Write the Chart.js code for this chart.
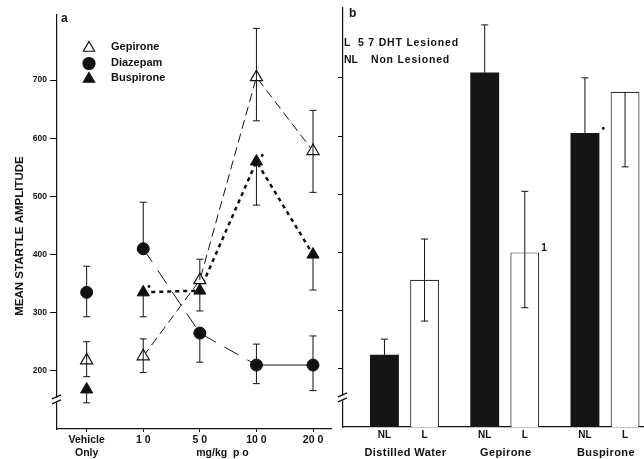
<!DOCTYPE html>
<html><head><meta charset="utf-8">
<script src="https://cdn.jsdelivr.net/npm/chart.js@4.4.1/dist/chart.umd.min.js"></script>
<style>
html,body{margin:0;padding:0;background:#fff;overflow:hidden;width:644px;height:459px;}
canvas{position:absolute;top:0;}
#a{left:0}#b{left:330px}
</style></head><body>
<canvas id="a" width="340" height="459"></canvas>
<canvas id="b" width="314" height="459"></canvas>
<script>
// ---------- Panel a: dose response ----------
const doseLabels = [['Vehicle','Only'], '1 0', '5 0', '10 0', '20 0'];
const doseIndex = [0, 1, 2, 3, 4];
const gepirone   = [218, 225, 356, 705, 578];
const gepironeHi = [250, 255, 392, 789, 648];
const gepironeLo = [190, 197, null, 630, 507];
const diazepam   = [335, 410, 265, 210, 210];
const diazepamHi = [380, 490, null, 246, 260];
const diazepamLo = [293, null, 215, 178, 166];
const buspirone   = [168, 335, 338, 560, 400];
const buspironeHi = [null, null, null, null, null];
const buspironeLo = [145, 293, 303, 485, 339];
const buspironeSig = ['', '•', '', '•', ''];
const yTicks = [200, 300, 400, 500, 600, 700];
const yMin = 100, breakValue = 150;

// ---------- Panel b: lesion study ----------
const groups = ['Distilled Water', 'Gepirone', 'Buspirone'];
const groupIndex = [1, 2, 3];
const nonLesioned   = [224, 709, 605];
const nonLesionedHi = [251, 791, 700];
const nonLesionedLo = [null, null, null];
const nonLesionedSig = ['', '', '•'];
const lesioned   = [353, 400, 676];
const lesionedHi = [423, 505, null];
const lesionedLo = [282, 305, 547];
const lesionedSig = ['', '1', ''];

const FONT = "'Liberation Sans', Arial, Helvetica, sans-serif";
const INK = '#111';

function pts(xs, ys){ return xs.map((x,i)=>({x:x, y:ys[i]})); }

const errorBars = {
  id: 'errorBars',
  afterDatasetsDraw(chart) {
    const ctx = chart.ctx, y = chart.scales.y;
    const isBar = chart.config.type === 'bar';
    ctx.save();
    ctx.strokeStyle = INK; ctx.lineWidth = 1;
    chart.data.datasets.forEach((ds, i) => {
      const meta = chart.getDatasetMeta(i);
      meta.data.forEach((el, j) => {
        [ds.errHi ? ds.errHi[j] : null, ds.errLo ? ds.errLo[j] : null].forEach(v => {
          if (v == null) return;
          const py = y.getPixelForValue(v);
          ctx.beginPath();
          ctx.moveTo(el.x, el.y); ctx.lineTo(el.x, py);
          ctx.moveTo(el.x - 3.5, py); ctx.lineTo(el.x + 3.5, py);
          ctx.stroke();
        });
        if (ds.sig && ds.sig[j]) {
          ctx.fillStyle = INK;
          ctx.font = 'bold 10px ' + FONT;
          ctx.textAlign = 'left'; ctx.textBaseline = 'middle';
          const dx = isBar ? el.width / 2 + 2 : 4;
          ctx.fillText(ds.sig[j], el.x + dx, el.y - (isBar ? 4 : 5));
        }
      });
    });
    ctx.restore();
  }
};

const axisBreak = {
  id: 'axisBreak',
  afterDraw(chart) {
    const ctx = chart.ctx, y = chart.scales.y;
    const x = chart.chartArea.left;
    const py = y.getPixelForValue(breakValue);
    ctx.save();
    ctx.fillStyle = '#fff';
    ctx.fillRect(x - 2, py - 2.5, 4, 5);
    ctx.strokeStyle = INK; ctx.lineWidth = 1.3;
    ctx.beginPath();
    ctx.moveTo(x - 5, py - 1); ctx.lineTo(x + 4, py - 5);
    ctx.moveTo(x - 5, py + 4); ctx.lineTo(x + 4, py);
    ctx.stroke();
    ctx.restore();
  }
};

function marker(ctx, style, x, y, r, filled) {
  ctx.beginPath();
  if (style === 'circle') {
    ctx.arc(x, y, r, 0, Math.PI * 2);
  } else {
    const c = Math.cos(Math.PI / 6);
    ctx.moveTo(x, y - r); ctx.lineTo(x + r * c, y + r / 2); ctx.lineTo(x - r * c, y + r / 2); ctx.closePath();
  }
  ctx.fillStyle = filled ? INK : '#fff';
  ctx.fill();
  ctx.strokeStyle = INK; ctx.lineWidth = 1.2; ctx.stroke();
}

const panelA = {
  id: 'panelA',
  afterDraw(chart) {
    const ctx = chart.ctx, ca = chart.chartArea, xs = chart.scales.x;
    ctx.save();
    ctx.fillStyle = INK;
    ctx.font = 'bold 12px ' + FONT;
    ctx.textAlign = 'left'; ctx.textBaseline = 'middle';
    ctx.fillText('a', ca.left + 4, 19);
    // legend
    ctx.font = 'bold 11px ' + FONT;
    chart.data.datasets.forEach((ds, i) => {
      const ly = 47 + i * 15.5;
      marker(ctx, ds.pointStyle, 89, ly + 1, ds.pointStyle === 'circle' ? 6 : 6.5, ds.pointBackgroundColor !== '#fff');
      ctx.fillStyle = INK;
      ctx.fillText(ds.label, 111, ly);
    });
    // axis title
    ctx.font = 'bold 11.5px ' + FONT;
    ctx.save();
    ctx.translate(20, 236); ctx.rotate(-Math.PI / 2);
    ctx.textAlign = 'center';
    ctx.fillText('MEAN STARTLE AMPLITUDE', 0, 0);
    ctx.restore();
    ctx.font = 'bold 10.5px ' + FONT;
    ctx.textAlign = 'center';
    ctx.fillText('mg/kg  p o', xs.getPixelForValue(2.4), ca.bottom + 24);
    ctx.restore();
  }
};

const panelB = {
  id: 'panelB',
  afterDraw(chart) {
    const ctx = chart.ctx, ca = chart.chartArea;
    ctx.save();
    ctx.fillStyle = INK;
    ctx.textAlign = 'left'; ctx.textBaseline = 'middle';
    ctx.font = 'bold 12px ' + FONT;
    ctx.fillText('b', ca.left + 6, 14);
    ctx.font = 'bold 10.5px ' + FONT;
    ctx.fillText('L', ca.left + 1, 43);
    ctx.fillText('NL', ca.left + 1, 60);
    ctx.letterSpacing = '0.8px';
    ctx.fillText('5 7 DHT Lesioned', ca.left + 15, 43);
    ctx.fillText('Non Lesioned', ca.left + 28, 60);
    ctx.letterSpacing = '0px';
    // bar and group labels
    ctx.textAlign = 'center';
    ctx.font = 'bold 10px ' + FONT;
    const m0 = chart.getDatasetMeta(0).data, m1 = chart.getDatasetMeta(1).data;
    chart.data.datasets.forEach((ds, i) => {
      chart.getDatasetMeta(i).data.forEach(el => ctx.fillText(ds.label, el.x, ca.bottom + 8));
    });
    ctx.font = 'bold 11px ' + FONT;
    ctx.letterSpacing = '0.4px';
    groups.forEach((g, j) => ctx.fillText(g, (m0[j].x + m1[j].x) / 2 + 1, ca.bottom + 26));
    ctx.restore();
  }
};

Chart.defaults.font.family = FONT;
Chart.defaults.color = INK;

const yAxisCommon = (width, showLabels, max) => ({
  type: 'linear', min: yMin, max: max,
  afterBuildTicks: s => { s.ticks = yTicks.map(v => ({ value: v })); },
  afterFit: s => { s.width = width; },
  grid: { drawOnChartArea: false, color: INK, tickLength: showLabels ? 7 : 5, tickWidth: 1 },
  border: { display: true, color: INK, width: 1.2 },
  ticks: { display: showLabels, padding: 3, font: { size: 8.5, weight: 'bold' }, color: INK }
});

new Chart(document.getElementById('a'), {
  type: 'line',
  data: {
    datasets: [
      { label: 'Gepirone', data: pts(doseIndex, gepirone), errHi: gepironeHi, errLo: gepironeLo,
        borderColor: INK, borderWidth: 1, borderDash: [9, 5],
        pointStyle: 'triangle', pointRadius: 7, pointBackgroundColor: '#fff', pointBorderColor: INK, pointBorderWidth: 1.2,
        segment: { borderColor: c => c.p0DataIndex === 0 ? 'rgba(0,0,0,0)' : undefined } },
      { label: 'Diazepam', data: pts(doseIndex, diazepam), errHi: diazepamHi, errLo: diazepamLo,
        borderColor: INK, borderWidth: 1, borderDash: [16, 10],
        pointStyle: 'circle', pointRadius: 6, pointBackgroundColor: INK, pointBorderColor: INK, pointBorderWidth: 1,
        segment: { borderColor: c => c.p0DataIndex === 0 ? 'rgba(0,0,0,0)' : undefined,
                   borderDash: c => c.p0DataIndex === 3 ? [] : undefined } },
      { label: 'Buspirone', data: pts(doseIndex, buspirone), errHi: buspironeHi, errLo: buspironeLo, sig: buspironeSig,
        borderColor: INK, borderWidth: 2.5, borderDash: [4, 4],
        pointStyle: 'triangle', pointRadius: 7, pointBackgroundColor: INK, pointBorderColor: INK, pointBorderWidth: 1,
        segment: { borderColor: c => c.p0DataIndex === 0 ? 'rgba(0,0,0,0)' : undefined } }
    ]
  },
  options: {
    responsive: false, animation: false, devicePixelRatio: 1,
    layout: { padding: { left: 0, top: 15, right: 5, bottom: 0 } },
    plugins: { legend: { display: false }, tooltip: { enabled: false } },
    elements: { line: { tension: 0 } },
    scales: {
      x: { type: 'linear', min: -0.524, max: 4.332, offset: false,
           afterBuildTicks: s => { s.ticks = doseIndex.map(v => ({ value: v })); },
           afterFit: s => { s.height = 30; },
           grid: { display: true, drawOnChartArea: false, drawTicks: true, tickLength: 3, color: INK },
           border: { display: true, color: INK, width: 1.2 },
           ticks: { autoSkip: false, maxRotation: 0, padding: 2, font: { size: 10.5, weight: 'bold' }, color: INK,
                    callback: v => doseLabels[v] } },
      y: yAxisCommon(57, true, 812)
    }
  },
  plugins: [errorBars, axisBreak, panelA]
});

new Chart(document.getElementById('b'), {
  type: 'bar',
  data: {
    datasets: [
      { label: 'NL', data: pts(groupIndex, nonLesioned), errHi: nonLesionedHi, errLo: nonLesionedLo, sig: nonLesionedSig,
        backgroundColor: '#151515', borderWidth: 0, base: yMin },
      { label: 'L', data: pts(groupIndex, lesioned), errHi: lesionedHi, errLo: lesionedLo, sig: lesionedSig,
        backgroundColor: '#fff', borderColor: '#333', borderWidth: 1.2, base: yMin }
    ]
  },
  options: {
    responsive: false, animation: false, devicePixelRatio: 1,
    layout: { padding: { left: 0, top: 8, right: 0, bottom: 0 } },
    plugins: { legend: { display: false }, tooltip: { enabled: false } },
    categoryPercentage: 0.8, barPercentage: 0.72,
    scales: {
      x: { type: 'linear', min: 0.3865, max: 3.389, offset: false,
           afterBuildTicks: s => { s.ticks = groupIndex.map(v => ({ value: v })); },
           afterFit: s => { s.height = 32; },
           grid: { display: false, drawTicks: false },
           border: { display: true, color: INK, width: 1.2 },
           ticks: { display: false } },
      y: yAxisCommon(13, false, 820)
    }
  },
  plugins: [errorBars, axisBreak, panelB]
});
</script>
</body></html>
